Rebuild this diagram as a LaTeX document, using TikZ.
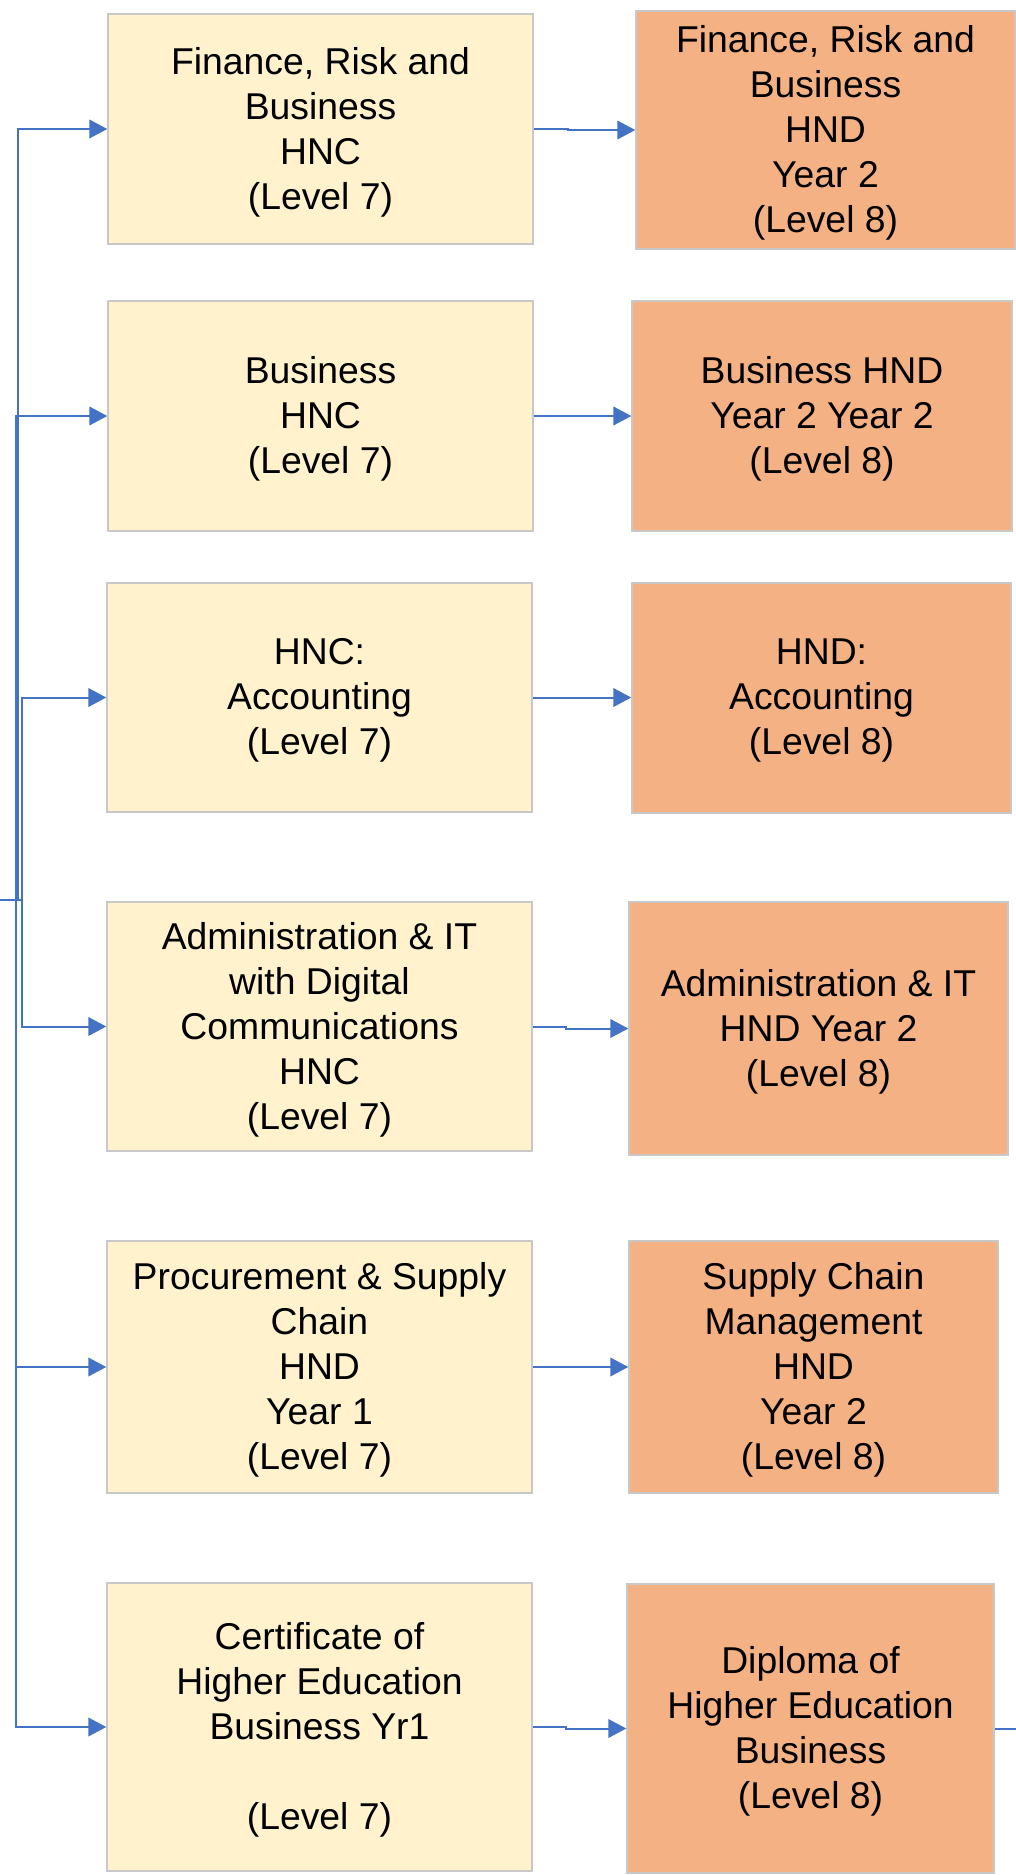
\documentclass[tikz,border=0pt]{standalone}
\usepackage{fontspec}
\setmainfont{Liberation Sans}
\usetikzlibrary{arrows.meta,fit}
\definecolor{lfill}{HTML}{FFF2CC}
\definecolor{rfill}{HTML}{F4B183}
\definecolor{bord}{HTML}{C8C8C8}
\definecolor{conn}{HTML}{4472C4}
\begin{document}
\begin{tikzpicture}[x=0.75pt,y=-0.75pt,
  box/.style={draw=bord,line width=1.1pt,inner sep=0pt},
  lbox/.style={box,fill=lfill},
  rbox/.style={box,fill=rfill},
  txt/.style={inner sep=0pt,align=center,yshift=-2.2pt,
    font=\fontsize{28}{33.75}\selectfont,text=black},
  arr/.style={draw=conn,line width=1.5pt,-{Triangle[length=13.5pt,width=14pt]}},
  plain/.style={draw=conn,line width=1.5pt}]
\useasboundingbox (0,0) rectangle (1016,1875);

% left column
\node[lbox,fit={(108,14) (533,244)}] (L1) {};
\node[lbox,fit={(108,301) (533,531)}] (L2) {};
\node[lbox,fit={(107,583) (532,812)}] (L3) {};
\node[lbox,fit={(107,902) (532,1151)}] (L4) {};
\node[lbox,fit={(107,1241) (532,1493)}] (L5) {};
\node[lbox,fit={(107,1583) (532,1871)}] (L6) {};
\node[txt] (L1t) at (L1.center) {Finance, Risk and\\Business\\HNC\\(Level 7)};
\node[txt] (L2t) at (L2.center) {Business\\HNC\\(Level 7)};
\node[txt] (L3t) at (L3.center) {HNC:\\Accounting\\(Level 7)};
\node[txt] (L4t) at (L4.center) {Administration \& IT\\with Digital\\Communications\\HNC\\(Level 7)};
\node[txt] (L5t) at (L5.center) {Procurement \& Supply\\Chain\\HND\\Year 1\\(Level 7)};
\node[txt] (L6t) at (L6.center) {Certificate of\\Higher Education\\Business Yr1\\\mbox{}\\(Level 7)};

% right column
\node[rbox,fit={(636,11) (1015,249)}] (R1) {};
\node[rbox,fit={(632,301) (1012,531)}] (R2) {};
\node[rbox,fit={(632,583) (1011,813)}] (R3) {};
\node[rbox,fit={(629,902) (1008,1155)}] (R4) {};
\node[rbox,fit={(629,1241) (998,1493)}] (R5) {};
\node[rbox,fit={(627,1584) (994,1873)}] (R6) {};
\node[txt] (R1t) at (R1.center) {Finance, Risk and\\Business\\HND\\Year 2\\(Level 8)};
\node[txt] (R2t) at (R2.center) {Business HND\\Year 2 Year 2\\(Level 8)};
\node[txt] (R3t) at (R3.center) {HND:\\Accounting\\(Level 8)};
\node[txt] (R4t) at (R4.center) {Administration \& IT\\HND Year 2\\(Level 8)};
\node[txt] (R5t) at (R5.center) {Supply Chain\\Management\\HND\\Year 2\\(Level 8)};
\node[txt] (R6t) at (R6.center) {Diploma of\\Higher Education\\Business\\(Level 8)};

% incoming connectors from the left
\coordinate (src) at (0,900);
\coordinate (k1) at (18.3,900);
\coordinate (k2) at (15.7,900);
\coordinate (k3) at (21.7,900);
\draw[arr] (src) -- (k1) |- (L1.west);
\draw[arr] (src) -- (k2) |- (L2.west);
\draw[arr] (src) -- (k3) |- (L3.west);
\draw[arr] (src) -- (k3) |- (L4.west);
\draw[arr] (src) -- (k2) |- (L5.west);
\draw[arr] (src) -- (k2) |- (L6.west);

% left to right
\draw[arr] (L1.east) -- ++(34,0) |- (R1.west);
\draw[arr] (L2.east) -- (L2.east -| R2.west);
\draw[arr] (L3.east) -- (L3.east -| R3.west);
\draw[arr] (L4.east) -- ++(33,0) |- (R4.west);
\draw[arr] (L5.east) -- (L5.east -| R5.west);
\draw[arr] (L6.east) -- ++(33,0) |- (R6.west);

% outgoing
\coordinate (exit) at (1016,1728.5);
\draw[plain] (R6.east) -- (exit);
\end{tikzpicture}
\end{document}
